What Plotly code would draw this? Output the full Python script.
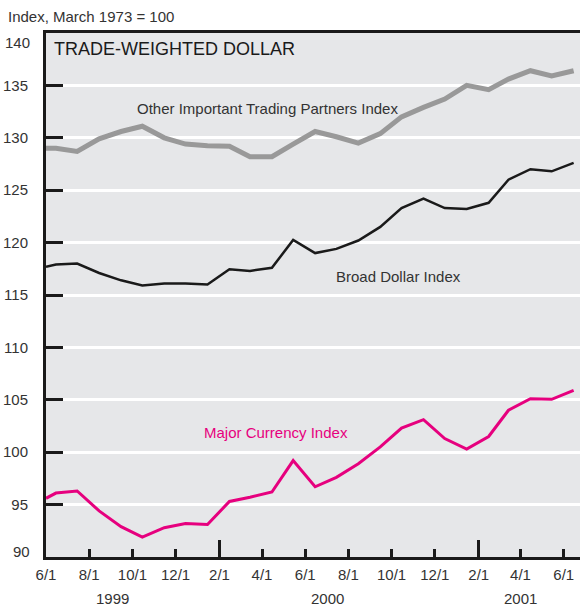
import plotly.graph_objects as go

dates = ["1999-06-01", "1999-06-15", "1999-07-15", "1999-08-15", "1999-09-15", "1999-10-15",
         "1999-11-15", "1999-12-15", "2000-01-15", "2000-02-15", "2000-03-15", "2000-04-15",
         "2000-05-15", "2000-06-15", "2000-07-15", "2000-08-15", "2000-09-15", "2000-10-15",
         "2000-11-15", "2000-12-15", "2001-01-15", "2001-02-15", "2001-03-15", "2001-04-15",
         "2001-05-15", "2001-06-15"]

other_partners = [129.0, 129.0, 128.7, 129.9, 130.6, 131.1, 130.0, 129.4, 129.25, 129.2, 128.2, 128.2,
                  129.4, 130.6, 130.1, 129.5, 130.4, 132.0, 132.9, 133.7, 135.0, 134.6, 135.6, 136.4,
                  135.9, 136.4]
broad = [117.7, 117.9, 118.0, 117.1, 116.4, 115.9, 116.1, 116.1, 116.0, 117.45, 117.3, 117.6,
         120.25, 119.0, 119.4, 120.2, 121.5, 123.3, 124.2, 123.3, 123.2, 123.8, 126.0, 127.0,
         126.8, 127.6]
major = [95.6, 96.1, 96.3, 94.4, 92.9, 91.9, 92.8, 93.2, 93.1, 95.3, 95.7, 96.2,
         99.2, 96.7, 97.6, 98.9, 100.5, 102.3, 103.1, 101.3, 100.3, 101.5, 104.0, 105.1,
         105.05, 105.9]

xtick_vals = ["1999-06-01", "1999-08-01", "1999-10-01", "1999-12-01", "2000-02-01", "2000-04-01",
              "2000-06-01", "2000-08-01", "2000-10-01", "2000-12-01", "2001-02-01", "2001-04-01",
              "2001-06-01"]
xtick_text = ["6/1", "8/1", "10/1", "12/1", "2/1", "4/1", "6/1", "8/1", "10/1", "12/1", "2/1", "4/1", "6/1"]
year_ticks = ["2000-02-01", "2001-02-01"]
year_labels = ["1999", "2000", "2001"]
year_label_pos = ["1999-09-03", "2000-07-03", "2001-04-01"]
ytick_vals = [90, 95, 100, 105, 110, 115, 120, 125, 130, 135, 140]
ytick_text = ["", "95", "100", "105", "110", "115", "120", "125", "130", "135", ""]
y_end_labels = ["90", "140"]

FONT = "Liberation Sans, Arial, sans-serif"
TXT = "#333333"
PINK = "#e6007e"
FS = 15

fig = go.Figure()
fig.add_trace(go.Scatter(x=dates, y=other_partners, mode="lines",
                         line=dict(color="#999999", width=5), showlegend=False))
fig.add_trace(go.Scatter(x=dates, y=broad, mode="lines",
                         line=dict(color="#1a1a1a", width=2.5), showlegend=False))
fig.add_trace(go.Scatter(x=dates, y=major, mode="lines",
                         line=dict(color=PINK, width=3), showlegend=False))
# invisible trace anchoring the overlay axis that carries the taller year-boundary ticks
fig.add_trace(go.Scatter(x=[dates[0]], y=[None], xaxis="x2", showlegend=False, hoverinfo="skip"))

xrange = ["1999-06-01", "2001-06-24"]

fig.update_layout(
    width=580, height=608,
    margin=dict(l=46, r=0, t=33, b=51),
    paper_bgcolor="white",
    plot_bgcolor="#e6e7e9",
    font=dict(family=FONT, size=FS, color=TXT),
    xaxis=dict(
        type="date", range=xrange,
        tickmode="array", tickvals=xtick_vals, ticktext=xtick_text,
        ticks="inside", ticklen=8, tickwidth=3, tickcolor="#1a1a1a",
        showline=True, linecolor="#1a1a1a", linewidth=3, mirror=True,
        showgrid=False, zeroline=False, ticklabelstandoff=2,
        tickfont=dict(family=FONT, size=FS, color=TXT),
    ),
    xaxis2=dict(
        type="date", range=xrange, overlaying="x", anchor="y", side="bottom",
        tickmode="array", tickvals=year_ticks,
        ticks="inside", ticklen=17, tickwidth=3, tickcolor="#1a1a1a",
        showticklabels=False, showline=False, showgrid=False, zeroline=False,
    ),
    yaxis=dict(
        range=[90, 140], tickmode="array", tickvals=ytick_vals, ticktext=ytick_text,
        ticks="inside", ticklen=17, tickwidth=3, tickcolor="#1a1a1a",
        showline=True, linecolor="#1a1a1a", linewidth=3,
        showgrid=True, gridcolor="white", gridwidth=2.5, zeroline=False,
        ticklabelstandoff=12,
        tickfont=dict(family=FONT, size=FS, color=TXT),
    ),
)

annotations = [
    dict(text="Index, March 1973 = 100", xref="paper", yref="paper", x=-40/534, y=1 + 17/524,
         xanchor="left", yanchor="middle", showarrow=False,
         font=dict(family=FONT, size=FS, color=TXT)),
    dict(text="TRADE-WEIGHTED DOLLAR", xref="paper", yref="paper", x=6/534, y=1 - 16/524,
         xanchor="left", yanchor="middle", showarrow=False,
         font=dict(family=FONT, size=18, color="#1a1a1a")),
    dict(text="Other Important Trading Partners Index", x="1999-10-04", y=132.8,
         xanchor="left", yanchor="middle", showarrow=False,
         font=dict(family=FONT, size=FS, color=TXT)),
    dict(text="Broad Dollar Index", x="2000-07-12", y=116.8,
         xanchor="left", yanchor="middle", showarrow=False,
         font=dict(family=FONT, size=FS, color=TXT)),
    dict(text="Major Currency Index", x="2000-01-07", y=101.9,
         xanchor="left", yanchor="middle", showarrow=False,
         font=dict(family=FONT, size=FS, color=PINK)),
    # end labels of the y axis, nudged inside the frame as in the original
    dict(text=y_end_labels[1], xref="paper", yref="paper", x=-14/534, y=1 - 9/524,
         xanchor="right", yanchor="middle", showarrow=False,
         font=dict(family=FONT, size=FS, color=TXT)),
    dict(text=y_end_labels[0], xref="paper", yref="paper", x=-14/534, y=6/524,
         xanchor="right", yanchor="middle", showarrow=False,
         font=dict(family=FONT, size=FS, color=TXT)),
]
for lbl, pos in zip(year_labels, year_label_pos):
    annotations.append(dict(text=lbl, x=pos, xref="x", yref="paper", y=-41/524,
                            xanchor="center", yanchor="middle", showarrow=False,
                            font=dict(family=FONT, size=FS, color=TXT)))
fig.update_layout(annotations=annotations)

fig.write_html("out.html", config={"displayModeBar": False},
               post_script="document.body.style.margin='0';document.body.style.overflow='hidden';")
